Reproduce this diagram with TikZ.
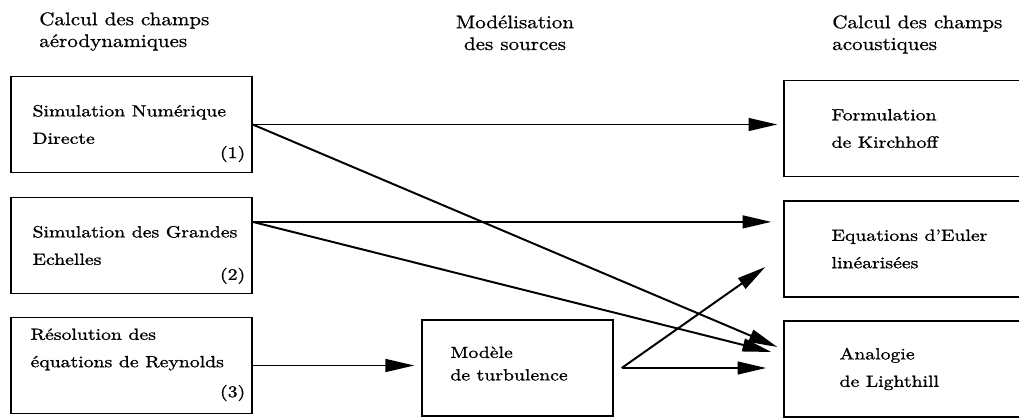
\documentclass[tikz,border=0pt]{standalone}
\usepackage{fontspec}
\usepackage{tikz}
\usetikzlibrary{positioning,arrows.meta}
\newfontfamily\headfont{lmroman10-regular}[Extension=.otf, FakeStretch=1.15, FakeBold=0.8]
\newfontfamily\boxfont{lmroman10-regular}[Extension=.otf, FakeStretch=1.22, FakeBold=1.2]

\begin{document}
\begin{tikzpicture}
            % Styles
            \tikzstyle{head} = [align=left, inner sep=0pt, font=\headfont\fontsize{13}{15.5}\selectfont]
            \tikzstyle{stage} = [rectangle, draw, line width=1pt, minimum height=2.4cm]
            \tikzstyle{aero} = [stage, minimum width=6.025cm]
            \tikzstyle{acou} = [stage, minimum width=6.4cm]
            \tikzstyle{boxtext} = [align=left, inner sep=0pt, font=\boxfont\fontsize{11.5}{19.5}\selectfont]
            \tikzstyle{num} = [inner sep=0pt, font=\boxfont\fontsize{11.5}{13}\selectfont]
            \tikzstyle{flow} = [-{Triangle[length=0.72cm, width=0.32cm]}, line width=1.4pt]

            \useasboundingbox (0,0) rectangle (25.475,10.475);
            \clip (0,0) rectangle (25.475,10.475);

            % Column titles
            \node[head, anchor=base west] at (0.975, 9.3) {Calcul des champs\\aérodynamiques};
            \node[head, anchor=base, align=center] at (12.875, 9.225) {Modélisation\\des sources};
            \node[head, anchor=base west] at (20.8, 9.225) {Calcul des champs\\acoustiques};

            % Aerodynamic fields
            \node[aero] (dns) at (3.2875, 7.3625) {};
            \node[boxtext, right=0.55cm] at (dns.west) {Simulation Numérique\\Directe};
            \node[num, above left=0.27cm and 0.18cm] at (dns.south east) {(1)};

            \node[aero] (les) at (3.2875, 4.3375) {};
            \node[boxtext, right=0.55cm] at (les.west) {Simulation des Grandes\\Echelles};
            \node[num, above left=0.25cm and 0.18cm] at (les.south east) {(2)};

            \node[aero] (rans) at (3.2875, 1.3375) {};
            \node[boxtext, right=0.5cm, yshift=0.4cm] at (rans.west) {Résolution des\\équations de Reynolds};
            \node[num, above left=0.32cm and 0.18cm] at (rans.south east) {(3)};

            % Source model
            \node[stage, minimum width=4.775cm] (turb) at (12.9375, 1.275) {};
            \node[boxtext, right=0.72cm, yshift=0.11cm, font=\boxfont\fontsize{11.5}{16}\selectfont] at (turb.west) {Modèle\\de turbulence};

            % Acoustic fields
            \node[acou] (kirch) at (22.8, 7.2625) {};
            \node[boxtext, right=1.2cm] at (kirch.west) {Formulation\\de Kirchhoff};

            \node[acou] (euler) at (22.8, 4.25) {};
            \node[boxtext, right=1.2cm] at (euler.west) {Equations d’Euler\\linéarisées};

            \node[acou] (light) at (22.8, 1.25) {};
            \node[boxtext, right=1.4cm] at (light.west) {Analogie\\de Lighthill};

            % Arrows
            \coordinate[above=0.59cm] (les-out) at (les.east);
            \coordinate[right=0.2cm] (turb-out) at (turb.east);
            \coordinate[above left=0.55cm and 0.15cm] (light-in1) at (light.west);
            \coordinate[above left=0.425cm and 0.3cm] (light-in2) at (light.west);
            \coordinate[below left=0.45cm and 0.45cm] (euler-in) at (euler.west);

            \draw[flow, shorten >=0.15cm] (dns.east) -- (dns.east -| kirch.west);
            \draw[flow] (dns.east) -- (light-in1);
            \draw[flow, shorten >=0.3cm] (les-out) -- (les-out -| euler.west);
            \draw[flow] (les-out) -- (light-in2);
            \draw[flow, shorten >=0.175cm] (rans.east) -- (rans.east -| turb.west);
            \draw[flow, shorten >=0.425cm] (turb-out) -- (turb-out -| light.west);
            \draw[flow] (turb-out) -- (euler-in);
\end{tikzpicture}
\end{document}
